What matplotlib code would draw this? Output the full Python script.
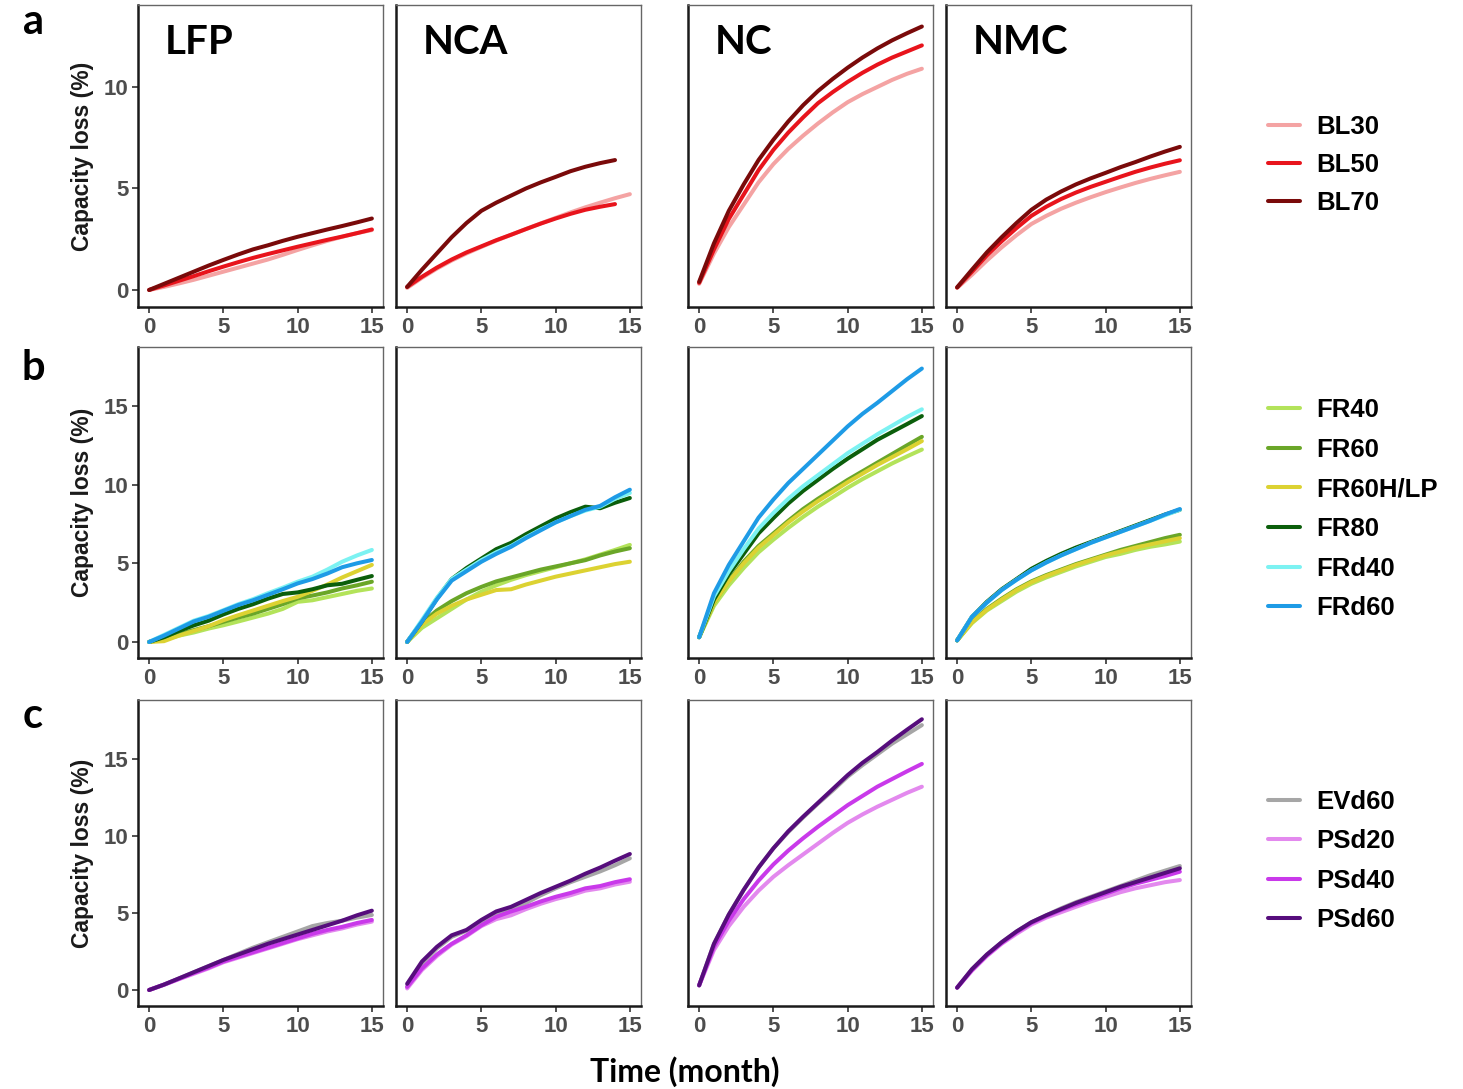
import matplotlib
matplotlib.use("Agg")
import matplotlib.pyplot as plt

plt.rcParams['font.family'] = ['Liberation Sans', 'DejaVu Sans']

months = list(range(16))
chems = ["LFP", "NCA", "NC", "NMC"]

# row a: baseline
bl30 = {
    "LFP": [0, 0.15, 0.32, 0.5, 0.7, 0.9, 1.1, 1.3, 1.5, 1.73, 1.97, 2.2, 2.42, 2.62, 2.8, 2.95],
    "NCA": [0.1, 0.6, 1.05, 1.45, 1.8, 2.12, 2.43, 2.72, 3.0, 3.28, 3.55, 3.82, 4.07, 4.3, 4.52, 4.72],
    "NC": [0.3, 1.8, 3.1, 4.2, 5.3, 6.2, 6.95, 7.6, 8.2, 8.75, 9.25, 9.65, 10.0, 10.35, 10.65, 10.9],
    "NMC": [0.1, 0.75, 1.45, 2.1, 2.7, 3.25, 3.65, 4.0, 4.3, 4.57, 4.82, 5.05, 5.27, 5.47, 5.65, 5.82],
}
bl50 = {
    "LFP": [0, 0.22, 0.45, 0.68, 0.92, 1.15, 1.37, 1.58, 1.77, 1.95, 2.13, 2.3, 2.47, 2.63, 2.8, 2.98],
    "NCA": [0.15, 0.65, 1.1, 1.5, 1.85, 2.15, 2.45, 2.72, 3.0, 3.27, 3.52, 3.75, 3.95, 4.1, 4.23],
    "NC": [0.35, 2.0, 3.5, 4.7, 5.9, 6.9, 7.75, 8.5, 9.2, 9.75, 10.25, 10.7, 11.1, 11.45, 11.75, 12.05],
    "NMC": [0.12, 0.9, 1.7, 2.4, 3.05, 3.65, 4.1, 4.48, 4.8, 5.08, 5.33, 5.58, 5.82, 6.03, 6.22, 6.39],
}
bl70 = {
    "LFP": [0, 0.3, 0.6, 0.9, 1.2, 1.48, 1.75, 2.0, 2.2, 2.42, 2.62, 2.8, 2.98, 3.15, 3.33, 3.52],
    "NCA": [0.15, 1.0, 1.8, 2.6, 3.3, 3.9, 4.3, 4.65, 5.0, 5.3, 5.57, 5.85, 6.07, 6.25, 6.4],
    "NC": [0.4, 2.3, 3.9, 5.2, 6.4, 7.4, 8.3, 9.1, 9.8, 10.4, 10.95, 11.45, 11.9, 12.3, 12.65, 12.98],
    "NMC": [0.13, 1.0, 1.85, 2.6, 3.3, 3.95, 4.45, 4.85, 5.2, 5.5, 5.77, 6.05, 6.3, 6.57, 6.82, 7.05],
}

# row b: frequency regulation
fr40 = {
    "LFP": [0, 0.15, 0.4, 0.6, 0.85, 1.06, 1.3, 1.55, 1.8, 2.1, 2.55, 2.65, 2.85, 3.05, 3.25, 3.4],
    "NCA": [0, 0.9, 1.5, 2.1, 2.7, 3.2, 3.6, 3.95, 4.25, 4.5, 4.75, 5.0, 5.25, 5.55, 5.85, 6.17],
    "NC": [0.3, 2.3, 3.6, 4.7, 5.7, 6.5, 7.25, 7.95, 8.6, 9.2, 9.8, 10.35, 10.85, 11.35, 11.8, 12.23],
    "NMC": [0.1, 1.2, 2.0, 2.6, 3.2, 3.7, 4.1, 4.45, 4.8, 5.1, 5.4, 5.6, 5.85, 6.05, 6.2, 6.38],
}
fr60 = {
    "LFP": [0, 0.2, 0.5, 0.75, 1.0, 1.28, 1.55, 1.8, 2.1, 2.4, 2.77, 2.95, 3.15, 3.4, 3.6, 3.83],
    "NCA": [0, 1.2, 2.0, 2.6, 3.1, 3.5, 3.85, 4.1, 4.35, 4.6, 4.8, 5.0, 5.2, 5.5, 5.75, 5.96],
    "NC": [0.3, 2.5, 3.9, 5.1, 6.1, 6.9, 7.7, 8.45, 9.1, 9.7, 10.3, 10.85, 11.4, 11.95, 12.5, 13.04],
    "NMC": [0.1, 1.3, 2.1, 2.75, 3.35, 3.85, 4.25, 4.6, 4.95, 5.25, 5.55, 5.85, 6.1, 6.35, 6.6, 6.81],
}
fr60hlp = {
    "LFP": [0, 0.05, 0.4, 0.7, 1.0, 1.38, 1.7, 2.0, 2.3, 2.6, 2.87, 3.25, 3.65, 4.1, 4.5, 4.9],
    "NCA": [0, 1.1, 1.8, 2.3, 2.7, 3.0, 3.3, 3.35, 3.65, 3.9, 4.15, 4.35, 4.55, 4.75, 4.95, 5.1],
    "NC": [0.3, 2.5, 3.85, 5.0, 6.0, 6.8, 7.6, 8.3, 8.95, 9.55, 10.15, 10.7, 11.25, 11.75, 12.25, 12.77],
    "NMC": [0.1, 1.25, 2.05, 2.7, 3.3, 3.8, 4.2, 4.55, 4.9, 5.2, 5.5, 5.75, 6.0, 6.2, 6.4, 6.6],
}
fr80 = {
    "LFP": [0, 0.3, 0.7, 1.05, 1.35, 1.75, 2.1, 2.4, 2.75, 3.05, 3.15, 3.35, 3.6, 3.7, 3.95, 4.19],
    "NCA": [0, 1.3, 2.75, 4.0, 4.7, 5.3, 5.9, 6.3, 6.85, 7.35, 7.85, 8.25, 8.6, 8.5, 8.85, 9.15],
    "NC": [0.3, 2.7, 4.3, 5.6, 6.9, 7.87, 8.8, 9.6, 10.3, 11.0, 11.65, 12.25, 12.85, 13.35, 13.85, 14.36],
    "NMC": [0.1, 1.6, 2.55, 3.35, 4.0, 4.65, 5.15, 5.6, 6.0, 6.35, 6.7, 7.05, 7.4, 7.75, 8.1, 8.4],
}
frd40 = {
    "LFP": [0, 0.45, 0.9, 1.35, 1.65, 2.02, 2.4, 2.72, 3.1, 3.45, 3.83, 4.15, 4.6, 5.1, 5.5, 5.85],
    "NCA": [0, 1.4, 2.8, 4.0, 4.6, 5.2, 5.7, 6.1, 6.65, 7.15, 7.6, 8.0, 8.35, 8.6, 9.1, 9.47],
    "NC": [0.3, 2.9, 4.5, 5.9, 7.2, 8.2, 9.1, 9.9, 10.6, 11.3, 12.0, 12.6, 13.2, 13.75, 14.3, 14.79],
    "NMC": [0.1, 1.6, 2.5, 3.3, 3.95, 4.55, 5.05, 5.5, 5.9, 6.3, 6.65, 7.0, 7.35, 7.7, 8.05, 8.4],
}
frd60 = {
    "LFP": [0, 0.4, 0.85, 1.3, 1.6, 1.98, 2.35, 2.65, 3.0, 3.35, 3.72, 4.0, 4.35, 4.75, 5.0, 5.21],
    "NCA": [0, 1.3, 2.7, 3.9, 4.5, 5.1, 5.6, 6.05, 6.6, 7.1, 7.6, 8.0, 8.4, 8.65, 9.2, 9.68],
    "NC": [0.3, 3.1, 4.9, 6.4, 7.9, 9.05, 10.1, 11.0, 11.9, 12.8, 13.7, 14.5, 15.2, 15.95, 16.7, 17.38],
    "NMC": [0.1, 1.6, 2.5, 3.3, 3.95, 4.55, 5.05, 5.5, 5.9, 6.3, 6.65, 7.0, 7.35, 7.7, 8.1, 8.45],
}

# row c: EV / peak shaving
evd60 = {
    "LFP": [0, 0.35, 0.75, 1.15, 1.55, 1.95, 2.35, 2.75, 3.1, 3.45, 3.8, 4.15, 4.35, 4.5, 4.7, 4.87],
    "NCA": [0.2, 1.7, 2.7, 3.45, 3.85, 4.4, 4.9, 5.2, 5.65, 6.15, 6.6, 7.0, 7.35, 7.7, 8.1, 8.55],
    "NC": [0.3, 3.0, 4.9, 6.5, 7.95, 9.2, 10.25, 11.2, 12.1, 12.95, 13.85, 14.6, 15.3, 16.0, 16.6, 17.2],
    "NMC": [0.15, 1.35, 2.3, 3.1, 3.8, 4.4, 4.85, 5.3, 5.7, 6.05, 6.4, 6.75, 7.1, 7.45, 7.75, 8.05],
}
psd20 = {
    "LFP": [0, 0.33, 0.7, 1.05, 1.4, 1.8, 2.1, 2.4, 2.7, 3.0, 3.3, 3.55, 3.8, 4.0, 4.25, 4.44],
    "NCA": [0.1, 1.3, 2.2, 2.95, 3.5, 4.15, 4.6, 4.85, 5.25, 5.6, 5.9, 6.15, 6.45, 6.6, 6.85, 7.03],
    "NC": [0.3, 2.6, 4.15, 5.4, 6.45, 7.35, 8.1, 8.8, 9.5, 10.2, 10.85, 11.4, 11.9, 12.35, 12.8, 13.2],
    "NMC": [0.15, 1.25, 2.2, 3.0, 3.65, 4.25, 4.7, 5.05, 5.4, 5.75, 6.05, 6.35, 6.6, 6.8, 7.0, 7.14],
}
psd40 = {
    "LFP": [0, 0.35, 0.72, 1.1, 1.45, 1.85, 2.15, 2.45, 2.75, 3.05, 3.35, 3.65, 3.9, 4.1, 4.35, 4.55],
    "NCA": [0.2, 1.4, 2.3, 3.0, 3.55, 4.2, 4.75, 5.1, 5.4, 5.75, 6.05, 6.3, 6.6, 6.75, 7.0, 7.19],
    "NC": [0.3, 2.8, 4.5, 5.9, 7.1, 8.15, 9.05, 9.85, 10.6, 11.3, 12.0, 12.6, 13.2, 13.7, 14.2, 14.68],
    "NMC": [0.15, 1.3, 2.25, 3.05, 3.75, 4.35, 4.8, 5.2, 5.55, 5.9, 6.25, 6.6, 6.9, 7.15, 7.4, 7.68],
}
psd60 = {
    "LFP": [0, 0.35, 0.75, 1.15, 1.55, 1.95, 2.3, 2.65, 3.0, 3.3, 3.6, 3.9, 4.2, 4.5, 4.85, 5.15],
    "NCA": [0.4, 1.85, 2.8, 3.55, 3.9, 4.55, 5.1, 5.4, 5.85, 6.3, 6.7, 7.1, 7.55, 7.95, 8.4, 8.83],
    "NC": [0.3, 3.0, 4.9, 6.5, 7.95, 9.2, 10.3, 11.25, 12.15, 13.05, 13.95, 14.75, 15.45, 16.2, 16.9, 17.58],
    "NMC": [0.15, 1.35, 2.3, 3.1, 3.8, 4.4, 4.85, 5.25, 5.65, 6.0, 6.35, 6.7, 7.0, 7.3, 7.6, 7.9],
}

rows = [
    [("BL30", bl30, "#f4a3a3"), ("BL50", bl50, "#e8141c"), ("BL70", bl70, "#7a0a0a")],
    [("FR40", fr40, "#b3e35a"), ("FR60", fr60, "#6aa628"), ("FR60H/LP", fr60hlp, "#dcd232"),
     ("FR80", fr80, "#0b5e0b"), ("FRd40", frd40, "#7cf2f2"), ("FRd60", frd60, "#1e9be6")],
    [("EVd60", evd60, "#a6a6a6"), ("PSd20", psd20, "#e389ee"), ("PSd40", psd40, "#c939ea"),
     ("PSd60", psd60, "#560d7c")],
]
row_ylim = [(-0.84, 14.04), (-1.02, 18.75), (-1.04, 18.83)]
row_yticks = [[0, 5, 10], [0, 5, 10, 15], [0, 5, 10, 15]]
row_top_bot = [(5, 307), (347, 658), (700, 1006)]
col_left = [138, 396, 688, 946]
legend_top = [115, 398, 790]
legend_space = [0.55, 0.61, 0.6]
letters = ["a", "b", "c"]
letter_y = [22, 368, 716]

W, H = 1463, 1089
fig = plt.figure(figsize=(W / 100, H / 100), dpi=100)
tick_col = "#4d4d4d"

for r, series in enumerate(rows):
    top, bot = row_top_bot[r]
    handles = []
    for c, chem in enumerate(chems):
        ax = fig.add_axes([col_left[c] / W, 1 - bot / H, 245 / W, (bot - top) / H])
        for name, data, color in series:
            vals = data[chem]
            ln, = ax.plot(months[:len(vals)], vals, color=color, lw=2.9,
                          solid_capstyle='round', label=name)
            if c == 0:
                handles.append(ln)
        ax.set_xlim(-0.75, 15.75)
        ax.set_ylim(*row_ylim[r])
        ax.set_xticks([0, 5, 10, 15])
        ax.tick_params(axis='x', length=4, width=1.2, color='#333333', labelsize=16,
                       labelcolor=tick_col, pad=3)
        for lab in ax.get_xticklabels():
            lab.set_fontweight('bold')
        if c == 0:
            ax.set_yticks(row_yticks[r])
            ax.tick_params(axis='y', length=4, width=1.2, color='#333333', labelsize=16,
                           labelcolor=tick_col, pad=3)
            for lab in ax.get_yticklabels():
                lab.set_fontweight('bold')
            ax.set_ylabel("Capacity loss (%)", fontsize=16.5, fontweight='bold',
                          color='#1a1a1a', labelpad=7)
        else:
            ax.set_yticks([])
        for side in ['top', 'right']:
            ax.spines[side].set_color('#666666')
            ax.spines[side].set_linewidth(1.0)
        for side in ['left', 'bottom']:
            ax.spines[side].set_color('#1a1a1a')
            ax.spines[side].set_linewidth(1.8)
        if r == 0:
            ax.text(0.11, 0.875, chem, transform=ax.transAxes, family='Lato',
                    fontweight='bold', fontsize=29, va='center', ha='left')
    fig.legend(handles=handles, loc='upper left',
               bbox_to_anchor=(1268 / W, 1 - legend_top[r] / H),
               frameon=False, borderpad=0, borderaxespad=0,
               handlelength=1.25, handletextpad=0.62, labelspacing=legend_space[r],
               prop={'weight': 'bold', 'size': 18.5})
    fig.text(33 / W, 1 - letter_y[r] / H, letters[r], family='Lato', fontweight='bold',
             fontsize=30, ha='center', va='center')

fig.text(685 / W, 1 - 1072 / H, "Time (month)", family='Lato', fontweight='bold',
         fontsize=23, ha='center', va='center')

fig.savefig("out.png", dpi=100, facecolor='white')
